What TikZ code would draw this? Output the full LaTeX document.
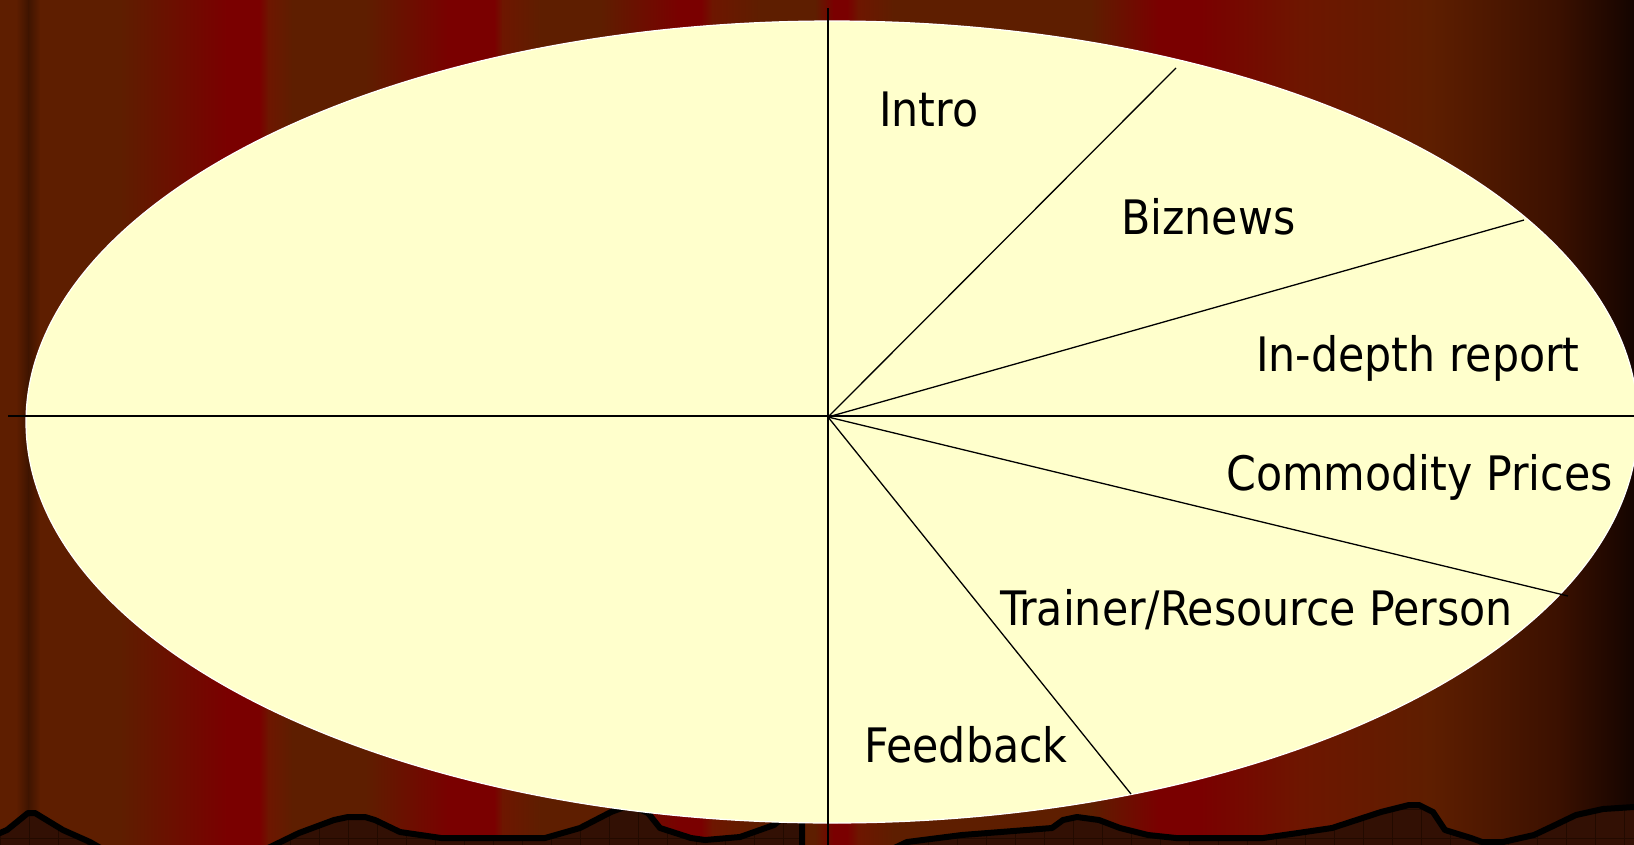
\documentclass[tikz,border=0pt]{standalone}
\usepackage{fontspec}
\setmainfont{DejaVu Sans Condensed}
\usetikzlibrary{calc}
\definecolor{curtainbrown}{RGB}{94,30,0}
\definecolor{curtainred}{RGB}{122,0,0}
\definecolor{curtainmid}{RGB}{110,22,0}
\definecolor{curtainfold}{RGB}{62,20,0}
\definecolor{curtainshade}{RGB}{58,16,0}
\definecolor{curtaindark}{RGB}{20,4,0}
\definecolor{hillfill}{RGB}{50,16,4}
\definecolor{hillgrid}{RGB}{34,10,0}
\definecolor{paper}{RGB}{255,255,204}
\tikzset{
  segtext/.style={anchor=base west, inner sep=0pt, font=\fontsize{47.5}{56}\selectfont},
  ray/.style={line width=1.3pt}
}

\begin{document}
\begin{tikzpicture}[x=1pt, y=-1pt]
			%%%%% START %%%%%
			\useasboundingbox (0, 0) rectangle (1634, 844);
			
			% curtain
			\foreach \xa/\ca/\xb/\cb in {0/curtainbrown/16/curtainbrown, 16/curtainbrown/28/curtainfold, 28/curtainfold/40/curtainbrown,
				40/curtainbrown/120/curtainbrown, 120/curtainbrown/226/curtainred, 226/curtainred/259/curtainred,
				259/curtainred/268/curtainmid, 268/curtainmid/292/curtainbrown, 292/curtainbrown/365/curtainbrown,
				365/curtainbrown/450/curtainred, 450/curtainred/494/curtainred, 494/curtainred/502/curtainmid,
				502/curtainmid/540/curtainbrown, 540/curtainbrown/600/curtainbrown, 600/curtainbrown/680/curtainred,
				680/curtainred/701/curtainred, 701/curtainred/712/curtainmid, 712/curtainmid/760/curtainbrown,
				760/curtainbrown/815/curtainbrown, 815/curtainbrown/833/curtainred, 833/curtainred/847/curtainred,
				847/curtainred/858/curtainmid, 858/curtainmid/893/curtainbrown, 893/curtainbrown/1090/curtainbrown,
				1090/curtainbrown/1158/curtainred, 1158/curtainred/1200/curtainred, 1200/curtainred/1300/curtainmid,
				1300/curtainmid/1430/curtainbrown, 1430/curtainbrown/1560/curtainshade, 1560/curtainshade/1634/curtaindark}
			{
				\shade[left color=\ca, right color=\cb] (\xa, -2) rectangle (\xb+0.8, 846);
			}
			
			% hills
			\begin{scope}
				\clip (-20, 833) -- (0, 833) -- (7, 830) -- (28, 813) -- (35, 813) -- (63, 830) -- (90, 842) -- (104, 850)
					-- (264, 850) -- (299, 833) -- (334, 820) -- (348, 817) -- (365, 817) -- (375, 820) -- (400, 832)
					-- (441, 838) -- (545, 838) -- (580, 828) -- (611, 812) -- (630, 805) -- (648, 813) -- (660, 828)
					-- (691, 838) -- (705, 840) -- (740, 837) -- (774, 825) -- (790, 812) -- (802, 812) -- (802, 850)
					-- (890, 850) -- (907, 842) -- (962, 835) -- (1052, 828) -- (1063, 820) -- (1077, 817) -- (1099, 820)
					-- (1120, 828) -- (1148, 835) -- (1176, 838) -- (1263, 838) -- (1298, 833) -- (1332, 828)
					-- (1381, 812) -- (1409, 805) -- (1419, 805) -- (1433, 812) -- (1445, 830) -- (1471, 838)
					-- (1482, 842) -- (1503, 842) -- (1534, 835) -- (1551, 827) -- (1576, 815) -- (1603, 809)
					-- (1634, 807) -- (1660, 807) -- (1660, 860) -- (-20, 860) -- cycle;
				\fill[hillfill] (-20, 780) rectangle (1660, 860);
				\foreach \gx in {0, 29, ..., 1634}
					\draw[hillgrid, line width=0.7pt] (\gx, 780) -- (\gx, 860);
				\foreach \gy in {780, 809, 838}
					\draw[hillgrid, line width=0.7pt] (-20, \gy) -- (1660, \gy);
			\end{scope}
			\draw[line width=6pt, line join=round] (-20, 833) -- (0, 833) -- (7, 830) -- (28, 813) -- (35, 813) -- (63, 830) -- (90, 842) -- (104, 850)
				-- (264, 850) -- (299, 833) -- (334, 820) -- (348, 817) -- (365, 817) -- (375, 820) -- (400, 832)
				-- (441, 838) -- (545, 838) -- (580, 828) -- (611, 812) -- (630, 805) -- (648, 813) -- (660, 828)
				-- (691, 838) -- (705, 840) -- (740, 837) -- (774, 825) -- (790, 812) -- (802, 812) -- (802, 850)
				-- (890, 850) -- (907, 842) -- (962, 835) -- (1052, 828) -- (1063, 820) -- (1077, 817) -- (1099, 820)
				-- (1120, 828) -- (1148, 835) -- (1176, 838) -- (1263, 838) -- (1298, 833) -- (1332, 828)
				-- (1381, 812) -- (1409, 805) -- (1419, 805) -- (1433, 812) -- (1445, 830) -- (1471, 838)
				-- (1482, 842) -- (1503, 842) -- (1534, 835) -- (1551, 827) -- (1576, 815) -- (1603, 809)
				-- (1634, 807) -- (1660, 807);
			
			% plate
			\draw[fill=paper, draw=white, line width=1.2pt] (832, 422) ellipse (806 and 401);
			
			% axes
			\coordinate (hub) at (828, 417);
			\coordinate (axtop) at (828, 8);
			\coordinate (axbot) at (828, 850);
			\coordinate (axleft) at (8, 416);
			\coordinate (axright) at (1640, 416);
			\draw[ray] (axtop) -- (axbot);
			\draw[ray] (axleft) -- (axright);
			
			% spokes
			\coordinate (cutA) at (1176, 68);
			\coordinate (cutB) at (1524, 220);
			\coordinate (cutC) at (1568, 596);
			\coordinate (cutD) at (1131, 794);
			\draw[ray] (hub) -- (cutA);
			\draw[ray] (hub) -- (cutB);
			\draw[ray] (hub) -- (cutC);
			\draw[ray] (hub) -- (cutD);
			
			% labels
			\node[segtext] (intro) at (879, 126) {Intro};
			\node[segtext] (biznews) at (1121, 234) {Biznews};
			\node[segtext] (indepth) at (1256, 371) {In-depth report};
			\node[segtext] (commodity) at (1226, 490) {Commodity Prices};
			\node[segtext] (trainer) at (1000, 625) {Trainer/Resource Person};
			\node[segtext] (feedback) at (864, 762) {Feedback};
			
			%%%%% END %%%%%
\end{tikzpicture}
\end{document}
